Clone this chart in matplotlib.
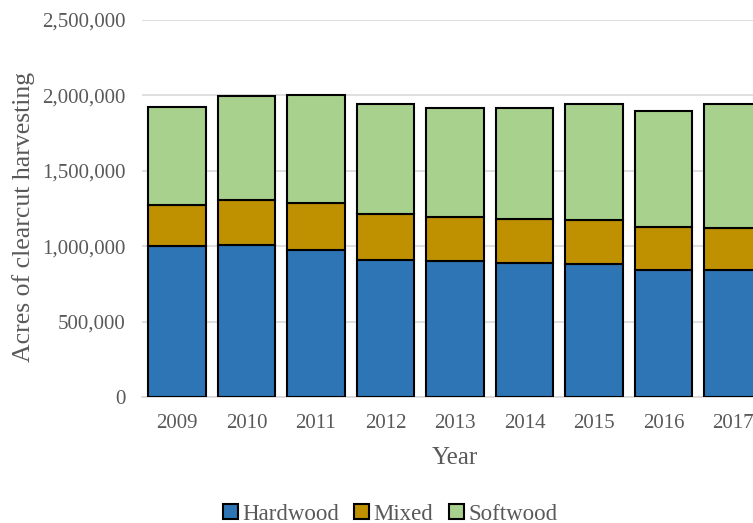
import matplotlib
matplotlib.use("Agg")
import matplotlib.pyplot as plt
from matplotlib.ticker import FuncFormatter

years = ["2009", "2010", "2011", "2012", "2013", "2014", "2015", "2016", "2017"]
hardwood = [1003000, 1010000, 975000, 908000, 902000, 891000, 884000, 844000, 844000]
mixed = [268000, 296000, 311000, 306000, 292000, 289000, 290000, 285000, 277000]
softwood = [654000, 692000, 719000, 727000, 724000, 738000, 767000, 770000, 824000]

series_names = ["Hardwood", "Mixed", "Softwood"]
colors = ["#2E75B6", "#BF9000", "#A9D18E"]
text_color = "#595959"

plt.rcParams["font.family"] = ["Liberation Serif", "DejaVu Serif"]

fig = plt.figure(figsize=(7.53, 5.23), dpi=100)
# axes run slightly past the right edge of the canvas
ax = fig.add_axes([142.25 / 753, 126 / 523, 625.5 / 753, 377 / 523])

x = list(range(len(years)))
bottom = [0] * len(years)
handles = []
for name, vals, col in zip(series_names, [hardwood, mixed, softwood], colors):
    b = ax.bar(x, vals, width=0.83, bottom=bottom, color=col,
               edgecolor="black", linewidth=1.5, label=name, zorder=3)
    handles.append(b)
    bottom = [b0 + v for b0, v in zip(bottom, vals)]

ax.set_xlim(-0.5, len(years) - 0.5)
ax.set_ylim(0, 2500000)
ax.set_yticks(range(0, 2500001, 500000))
ax.yaxis.set_major_formatter(FuncFormatter(lambda v, p: f"{int(v):,}"))
ax.set_xticks(x)
ax.set_xticklabels(years)

ax.grid(axis="y", color="#D9D9D9", linewidth=1.2, zorder=0)
for s in ["top", "right", "left"]:
    ax.spines[s].set_visible(False)
ax.spines["bottom"].set_color("#D9D9D9")
ax.spines["bottom"].set_linewidth(1.2)

ax.tick_params(axis="both", length=0, labelsize=15, labelcolor=text_color)
ax.tick_params(axis="y", pad=12)
ax.tick_params(axis="x", pad=12)

ax.set_ylabel("Acres of clearcut harvesting", fontsize=18.5, color=text_color)
ax.yaxis.set_label_coords((35 - 142.25) / 625.5, (397 - 217) / 377)
ax.set_xlabel("Year", fontsize=18, color=text_color)
ax.xaxis.set_label_coords(0.5, (397 - 447) / 377)

fig.legend(handles=handles, labels=series_names, loc="center",
           bbox_to_anchor=(390 / 753, 9 / 523), ncol=3, frameon=False,
           fontsize=16.5, labelcolor=text_color, handlelength=0.65,
           handleheight=0.65, handletextpad=0.2, columnspacing=0.66)

fig.savefig("out.png", dpi=100)
